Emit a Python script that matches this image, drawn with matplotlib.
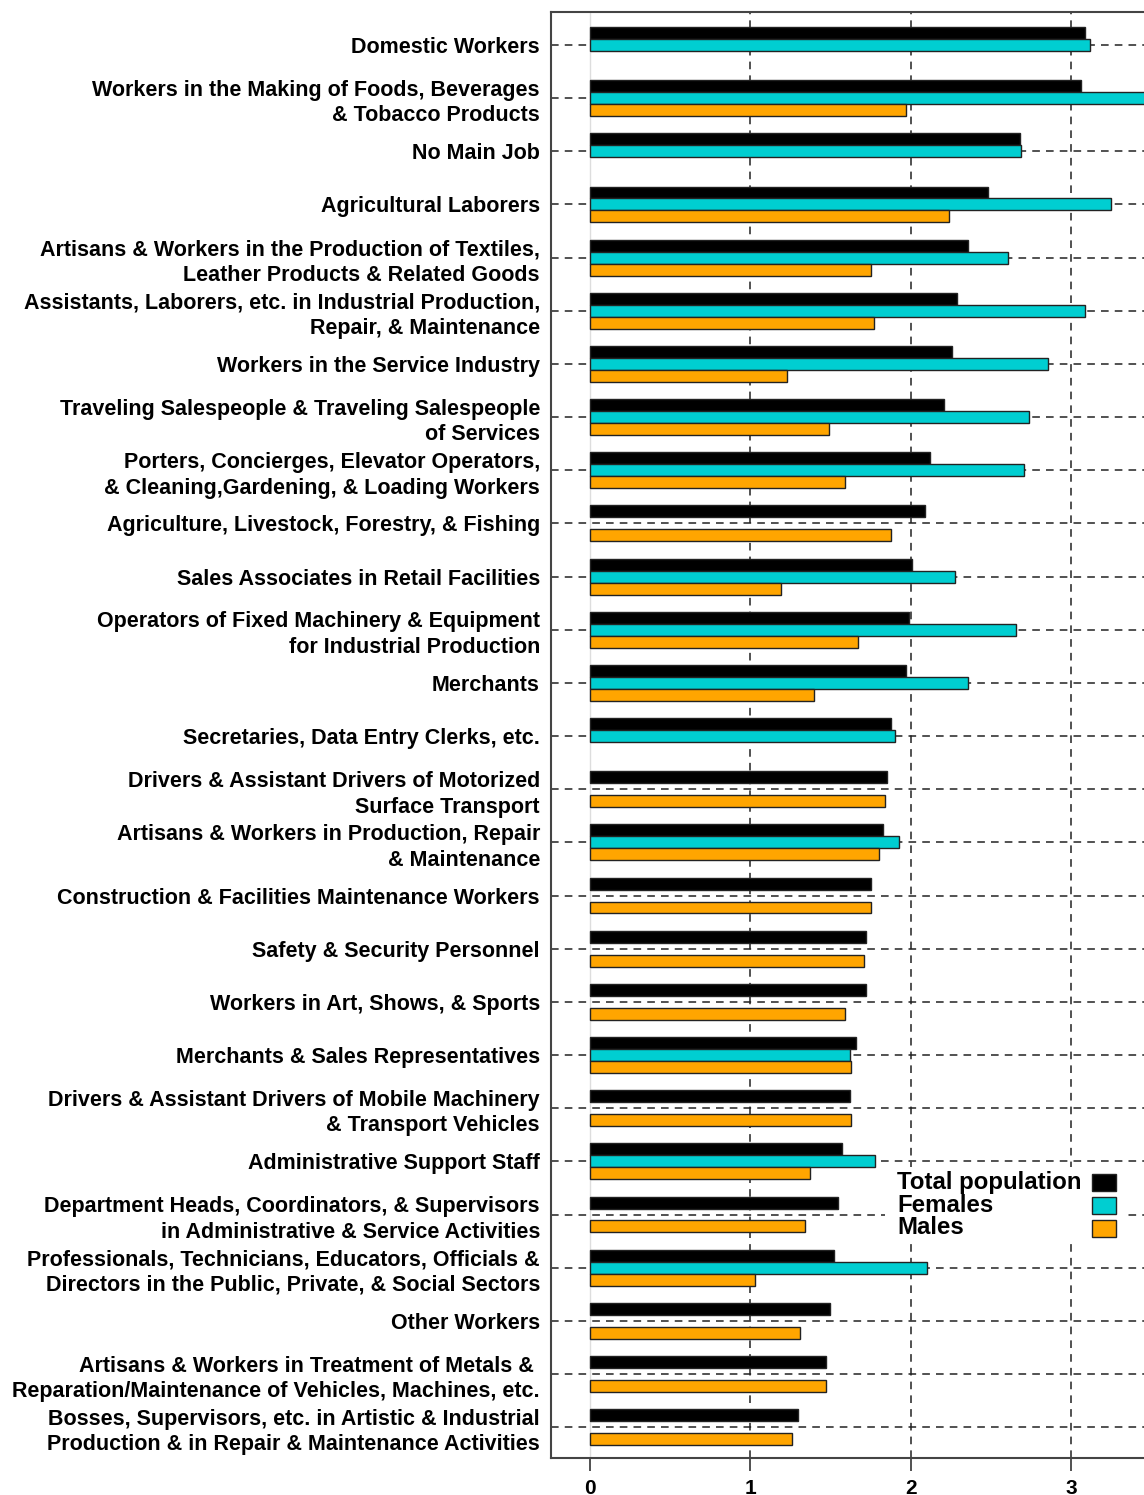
import numpy as np
import matplotlib.pyplot as plt
from matplotlib.patches import Rectangle

plt.rcParams['font.family'] = ['Liberation Sans', 'DejaVu Sans']
plt.rcParams['font.weight'] = 'bold'

# ---- data ----
categories = [
    "Domestic Workers",
    "Workers in the Making of Foods, Beverages\n& Tobacco Products",
    "No Main Job",
    "Agricultural Laborers",
    "Artisans & Workers in the Production of Textiles,\nLeather Products & Related Goods",
    "Assistants, Laborers, etc. in Industrial Production,\nRepair, & Maintenance",
    "Workers in the Service Industry",
    "Traveling Salespeople & Traveling Salespeople\nof Services",
    "Porters, Concierges, Elevator Operators,\n& Cleaning,Gardening, & Loading Workers",
    "Agriculture, Livestock, Forestry, & Fishing",
    "Sales Associates in Retail Facilities",
    "Operators of Fixed Machinery & Equipment\nfor Industrial Production",
    "Merchants",
    "Secretaries, Data Entry Clerks, etc.",
    "Drivers & Assistant Drivers of Motorized\nSurface Transport",
    "Artisans & Workers in Production, Repair\n& Maintenance",
    "Construction & Facilities Maintenance Workers",
    "Safety & Security Personnel",
    "Workers in Art, Shows, & Sports",
    "Merchants & Sales Representatives",
    "Drivers & Assistant Drivers of Mobile Machinery\n& Transport Vehicles",
    "Administrative Support Staff",
    "Department Heads, Coordinators, & Supervisors\nin Administrative & Service Activities",
    "Professionals, Technicians, Educators, Officials &\nDirectors in the Public, Private, & Social Sectors",
    "Other Workers",
    "Artisans & Workers in Treatment of Metals & \nReparation/Maintenance of Vehicles, Machines, etc.",
    "Bosses, Supervisors, etc. in Artistic & Industrial\nProduction & in Repair & Maintenance Activities",
]

total = [3.09, 3.06, 2.68, 2.48, 2.36, 2.29, 2.26, 2.21, 2.12, 2.09, 2.01, 1.99, 1.97,
         1.88, 1.85, 1.83, 1.75, 1.72, 1.72, 1.66, 1.62, 1.57, 1.55, 1.52, 1.50, 1.47, 1.30]
females = [3.12, 3.60, 2.69, 3.25, 2.61, 3.09, 2.86, 2.74, 2.71, np.nan, 2.28, 2.66, 2.36,
           1.90, np.nan, 1.93, np.nan, np.nan, np.nan, 1.62, np.nan, 1.78, np.nan, 2.10,
           np.nan, np.nan, np.nan]
males = [np.nan, 1.97, np.nan, 2.24, 1.75, 1.77, 1.23, 1.49, 1.59, 1.88, 1.19, 1.67, 1.40,
         np.nan, 1.84, 1.80, 1.75, 1.71, 1.59, 1.63, 1.63, 1.37, 1.34, 1.03, 1.31, 1.47, 1.26]

series_names = ["Total population", "Females", "Males"]
series_colors = ["#000000", "#00CED1", "#FFA500"]

W, H = 1144, 1495

# ---- figure ----
fig = plt.figure(figsize=(W / 100, H / 100), dpi=100)
ax = fig.add_axes([551 / W, 37 / H, (W - 551) / W, (1458 - 12) / H])

y = np.arange(len(categories))
h = 0.225
grid_kw = dict(color='#222222', lw=1.1, ls=(0, (5, 4)), zorder=1)

# horizontal dashed lines at each category, vertical ones at 1, 2, 3
for yi in y:
    ax.axhline(yi, **grid_kw)
for xv in [1, 2, 3]:
    ax.axvline(xv, **grid_kw)
ax.axvline(0, color='#dddddd', lw=1, zorder=1)

for vals, off, col in zip([total, females, males], [-h, 0, h], series_colors):
    vals = np.array(vals, dtype=float)
    ok = ~np.isnan(vals)
    ax.barh(y[ok] + off, vals[ok], height=h, color=col, edgecolor='#222222',
            linewidth=1.0, zorder=3)

ax.set_xlim(-0.243, 3.456)
ax.set_ylim(len(categories) - 1 + 0.58, -0.62)

ax.set_yticks(y)
ax.set_yticklabels(categories, fontsize=15.5, fontweight='bold', ha='right',
                   multialignment='right', linespacing=1.3)
ax.tick_params(axis='y', length=0, pad=8)

ax.set_xticks([0, 1, 2, 3])
ax.set_xticklabels(['0', '1', '2', '3'], fontsize=15, fontweight='bold')
ax.tick_params(axis='x', length=9, width=1.2, color='#333333', pad=6, direction='out')

for s in ['left', 'top', 'bottom']:
    ax.spines[s].set_color('#444444')
    ax.spines[s].set_linewidth(1.5)
ax.spines['right'].set_visible(False)

# ---- legend: labels on the left, keys on the right, white background ----
fig.add_artist(Rectangle((885 / W, 1 - 1243 / H), 240 / W, 76 / H,
                         transform=fig.transFigure, facecolor='white',
                         edgecolor='none', zorder=5))
for i, (name, col) in enumerate(zip(series_names, series_colors)):
    yc = 1182 + 23 * i
    fig.text(897 / W, 1 - yc / H, name, fontsize=17.3, fontweight='bold',
             ha='left', va='center', zorder=6)
    fig.add_artist(Rectangle((1092 / W, 1 - (yc + 8.5) / H), 24 / W, 17 / H,
                             transform=fig.transFigure, facecolor=col,
                             edgecolor='#222222', linewidth=1.0, zorder=6))

fig.savefig('out.png', dpi=100)
